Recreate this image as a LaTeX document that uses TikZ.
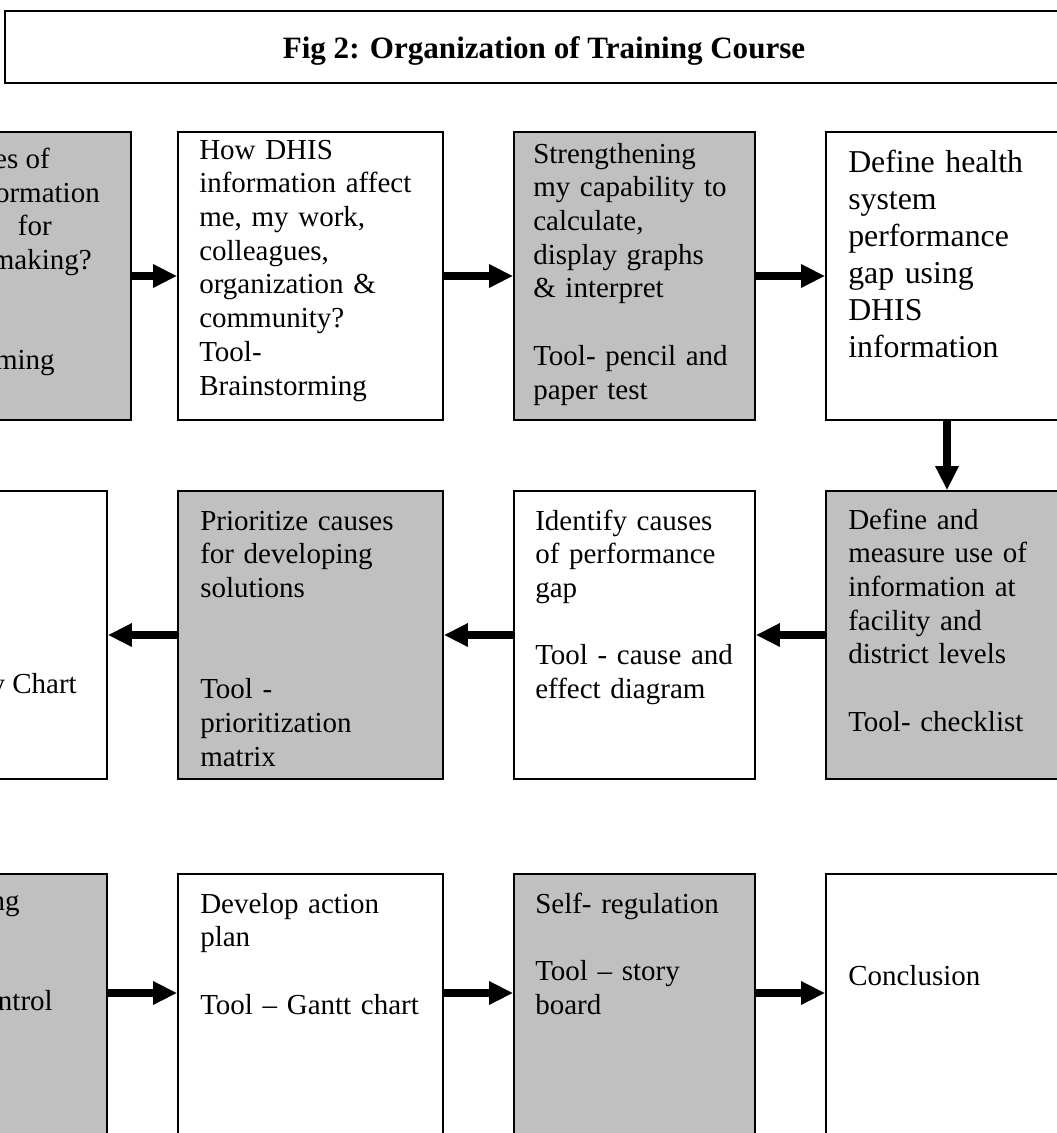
\documentclass[tikz,border=0pt]{standalone}
\usepackage{fontspec}
\setmainfont{Liberation Serif}
\usetikzlibrary{arrows.meta,fit}
\definecolor{boxgray}{RGB}{192,192,192}
\begin{document}
\begin{tikzpicture}[x=0.75pt,y=-0.75pt,
  frame/.style={draw=black, line width=1.3pt, inner sep=0pt},
  plainbox/.style={frame, fill=white},
  shadebox/.style={frame, fill=boxgray},
  body/.style={anchor=base west, inner sep=0pt, align=left, text width=240pt,
               font=\fontsize{21.75}{25.3}\selectfont},
  bigbody/.style={body, font=\fontsize{23.85}{27.75}\selectfont},
  cut/.style={anchor=base east, inner sep=0pt, font=\fontsize{21.75}{25.3}\selectfont},
  flow/.style={line width=6.5pt, -{Triangle[length=18pt,width=16.5pt]}},
]
\useasboundingbox (0,0) rectangle (1057,1133);
\clip (0,0) rectangle (1057,1133);

% heading
\node[frame, fit={(5,11) (1100,83)}] (titlebox) {};
\node[anchor=base, inner sep=0pt, font=\bfseries\fontsize{23.3}{28}\selectfont] (title) at (544,58)
  {Fig 2: Organization of Training Course};

% first row
\node[shadebox, fit={(-110,132) (131,420)}] (r1b1) {};
\node[plainbox, fit={(178,132) (443,420)}] (r1b2) {};
\node[shadebox, fit={(514,132) (755,420)}] (r1b3) {};
\node[plainbox, fit={(826,132) (1068,420)}] (r1b4) {};

% second row
\node[plainbox, fit={(-134,491) (107,779)}] (r2b1) {};
\node[shadebox, fit={(178,491) (443,779)}] (r2b2) {};
\node[plainbox, fit={(514,491) (755,779)}] (r2b3) {};
\node[shadebox, fit={(826,491) (1068,779)}] (r2b4) {};

% third row
\node[shadebox, fit={(-134,874) (107,1200)}] (r3b1) {};
\node[plainbox, fit={(178,874) (443,1200)}] (r3b2) {};
\node[shadebox, fit={(514,874) (755,1200)}] (r3b3) {};
\node[plainbox, fit={(826,874) (1068,1200)}] (r3b4) {};

% texts of the first row
\node[cut] (r1b1l1) at (50,168) {es of};
\node[cut] (r1b1l2) at (100,202) {ormation};
\node[cut] (r1b1l3) at (52,235) {for};
\node[cut] (r1b1l4) at (92,269) {making?};
\node[cut] (r1b1l5) at (55,369) {ming};
\node[body] (r1b2t) at (199,159) {How DHIS\\information affect\\me, my work,\\colleagues,\\organization \&\\community?\\Tool-\\Brainstorming};
\node[body] (r1b3t) at (533,163) {Strengthening\\my capability to\\calculate,\\display graphs\\\& interpret\\[25.3pt]Tool- pencil and\\paper test};
\node[bigbody] (r1b4t) at (848,172) {Define health\\system\\performance\\gap using\\DHIS\\information};

% texts of the second row
\node[cut] (r2b1l1) at (77,693) {y Chart};
\node[body] (r2b2t) at (200,530) {Prioritize causes\\for developing\\solutions\\[50.6pt]Tool -\\prioritization\\matrix};
\node[body] (r2b3t) at (535,530) {Identify causes\\of performance\\gap\\[25.3pt]Tool - cause and\\effect diagram};
\node[body] (r2b4t) at (848,529) {Define and\\measure use of\\information at\\facility and\\district levels\\[25.3pt]Tool- checklist};

% texts of the third row
\node[cut] (r3b1l1) at (20,910) {ng};
\node[cut] (r3b1l2) at (53,1010) {ntrol};
\node[body] (r3b2t) at (200,913) {Develop action\\plan\\[25.3pt]Tool – Gantt chart};
\node[body] (r3b3t) at (535,913) {Self- regulation\\[25.3pt]Tool – story\\board};
\node[body] (r3b4t) at (848,985) {Conclusion};

% connectors
\coordinate (r3y) at (0,993);
\draw[flow] (r1b1) -- (r1b2);
\draw[flow] (r1b2) -- (r1b3);
\draw[flow] (r1b3) -- (r1b4);
\draw[flow] (r1b4) -- (r2b4);
\draw[flow] (r2b4) -- (r2b3);
\draw[flow] (r2b3) -- (r2b2);
\draw[flow] (r2b2) -- (r2b1);
\draw[flow] (r3b1.east |- r3y) -- (r3b2.west |- r3y);
\draw[flow] (r3b2.east |- r3y) -- (r3b3.west |- r3y);
\draw[flow] (r3b3.east |- r3y) -- (r3b4.west |- r3y);
\end{tikzpicture}
\end{document}
